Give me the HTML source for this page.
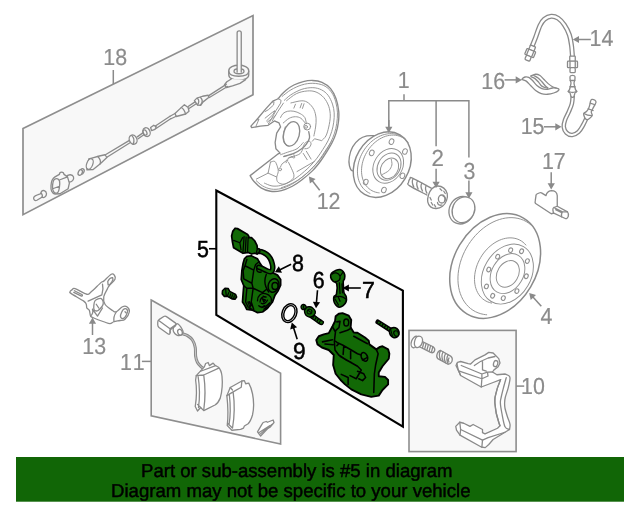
<!DOCTYPE html>
<html>
<head>
<meta charset="utf-8">
<title>Brake caliper parts diagram</title>
<style>
html,body{margin:0;padding:0;background:#fff;}
body{width:640px;height:512px;overflow:hidden;position:relative;font-family:"Liberation Sans",sans-serif;}
svg{position:absolute;left:0;top:0;display:block;will-change:transform;}
.g{fill:none;stroke:#8a8a8a;stroke-width:1.3;stroke-linecap:round;stroke-linejoin:round;}
.gf{fill:#fff;stroke:#8a8a8a;stroke-width:1.3;stroke-linecap:round;stroke-linejoin:round;}
.gb{fill:#f8f8f8;stroke:#8a8a8a;stroke-width:1.3;stroke-linecap:round;stroke-linejoin:round;}
.box{fill:#f8f8f8;stroke:#8e8e8e;stroke-width:1.9;stroke-linejoin:miter;}
.bbox{fill:#f8f8f8;stroke:#000;stroke-width:2.1;stroke-linejoin:miter;}
.ld{fill:none;stroke:#8a8a8a;stroke-width:1.5;}
.bld{fill:none;stroke:#000;stroke-width:1.6;}
.ah{fill:#8a8a8a;stroke:none;}
.bah{fill:#000;stroke:none;}
.lb{text-rendering:geometricPrecision;font-family:"Liberation Sans",sans-serif;font-size:22.75px;fill:#8c8c8c;stroke:#8c8c8c;stroke-width:0.2;}
.blb{text-rendering:geometricPrecision;font-family:"Liberation Sans",sans-serif;font-size:22.75px;fill:#000;stroke:#000;stroke-width:0.5;}
.gr{fill:#126906;stroke:#000;stroke-width:1.3;stroke-linejoin:round;stroke-linecap:round;}
.gl{fill:none;stroke:#000;stroke-width:1;stroke-linejoin:round;stroke-linecap:round;}
.bn{text-rendering:geometricPrecision;font-family:"Liberation Sans",sans-serif;font-size:18.6px;fill:#000;stroke:#000;stroke-width:0.45;}
</style>
</head>
<body>
<svg width="640" height="512" viewBox="0 0 640 512">
<rect x="0" y="0" width="640" height="512" fill="#fff"/>

<!-- ===== boxes ===== -->
<polygon class="box" style="stroke-width:1.7" points="23,128.6 253,15.6 253,94.8 23,214.7"/>
<polygon class="box" style="stroke-width:1.6" points="151.2,300 280.6,373.2 280.6,444 151.2,415.8"/>
<rect class="box" style="stroke-width:1.6" x="409" y="330.4" width="107.1" height="121.2"/>
<polygon class="bbox" points="216.3,190.5 402.9,290.6 402.9,426.6 216.3,315"/>





<!-- ===== parts (placeholders to refine) ===== -->
<g id="p18">
<!-- pin + grommet, origin (180,24) -->
<g transform="translate(180,24) scale(0.125)" class="g" style="stroke-width:10.5">
<path class="gb" style="stroke-width:10.5" d="M390 375C390 345 430 330 470 330C510 330 550 345 550 375L550 405C550 435 510 450 470 450C430 450 390 435 390 405Z"/>
<path d="M390 378C392 405 430 418 470 418C510 418 548 405 550 378"/>
<ellipse cx="472" cy="378" rx="40" ry="20"/>
<path class="gb" style="stroke-width:10.5" d="M457 385V70C457 50 490 50 490 70V385"/>
<path class="gb" style="stroke-width:10.5" d="M410 440L375 462L356 486L372 508L420 495L480 475L525 445"/>
</g>
<!-- cable upper, origin (160,60) -->
<g transform="translate(160,60) scale(0.125)" class="g" style="stroke-width:10.5">
<path d="M530 195L390 285M540 212L395 300"/>
<path class="gb" style="stroke-width:10.5" d="M275 325L295 305L340 290L385 282L392 298L345 335L325 362L300 360Z"/>
<path d="M325 300C340 315 340 340 325 360M300 308C315 320 312 345 300 358"/>
<path d="M280 335L225 372M290 350L232 388"/>
<path class="gb" style="stroke-width:10.5" d="M120 428L165 385L195 358L225 380L232 410L205 432L130 452Z"/>
<path d="M170 380C190 390 200 415 205 432"/>
<path d="M120 428L80 450M130 450L88 470"/>
</g>
<!-- cable lower, origin (90,110) -->
<g transform="translate(90,110) scale(0.125)" class="g" style="stroke-width:10.5">
<path d="M640 50L520 130M648 68L528 148"/>
<path class="gb" style="stroke-width:10.5" d="M485 140L510 122L530 135L520 155L492 165Z"/>
<ellipse class="gb" style="stroke-width:10.5" cx="452" cy="177" rx="28" ry="36" transform="rotate(-25 452 177)"/>
<ellipse cx="440" cy="180" rx="14" ry="22" transform="rotate(-25 440 180)"/>
<path d="M420 185L378 215M428 200L385 230"/>
<ellipse class="gb" style="stroke-width:10.5" cx="345" cy="237" rx="30" ry="38" transform="rotate(-25 345 237)"/>
<path d="M335 205C355 225 355 250 345 272"/>
<path d="M312 245L120 360M320 262L135 378"/>
<path class="gb" style="stroke-width:10.5" d="M120 358L75 368L15 385L-10 392L-25 478L25 476L80 432L135 380Z"/>
<ellipse class="gb" style="stroke-width:10.5" cx="-2" cy="432" rx="24" ry="44" transform="rotate(22 -2 432)"/>
<path d="M62 372C80 390 88 415 80 432"/>
</g>
<!-- sensor, ring, bolt, origin (25,150) -->
<g transform="translate(25,150) scale(0.125)" class="g" style="stroke-width:10.5">
<ellipse class="gb" style="stroke-width:10.5" cx="456" cy="172" rx="16" ry="23" transform="rotate(25 456 172)"/>
<ellipse class="gb" style="stroke-width:10.5" cx="442" cy="180" rx="16" ry="23" transform="rotate(25 442 180)"/>
<path class="gb" style="stroke-width:10.5" d="M330 215C340 195 380 190 388 215C395 240 375 255 350 258Z"/>
<path class="gb" style="stroke-width:10.5" d="M275 195C275 170 310 170 312 195L340 215L355 265L345 310L280 350L240 352C215 350 205 320 208 285C210 250 215 230 240 215Z"/>
<path d="M235 235C260 220 280 235 278 270C276 310 270 340 255 345C230 350 218 320 220 290C222 260 225 245 235 235ZM222 310L275 290M275 240L340 215"/>
<path class="gb" style="stroke-width:10.5" d="M70 380C75 365 95 360 125 350L130 335C140 315 170 325 172 350C172 375 150 385 135 378L95 402C80 410 65 398 70 380Z"/>
<path d="M128 345C140 355 142 370 135 378"/>
</g>
</g>
<g id="p12">
<g transform="translate(247,80) scale(0.15625)" class="g" style="stroke-width:8.6">
<path class="gf" style="stroke-width:8.6" d="M215.0 100.0C220.8 94.2 235.8 76.3 250.0 65.0C264.2 53.7 281.7 41.2 300.0 32.0C318.3 22.8 340.0 14.8 360.0 10.0C380.0 5.2 400.0 2.2 420.0 3.0C440.0 3.8 460.8 6.3 480.0 15.0C499.2 23.7 520.0 37.5 535.0 55.0C550.0 72.5 561.3 95.8 570.0 120.0C578.7 144.2 584.5 175.0 587.0 200.0C589.5 225.0 587.8 246.7 585.0 270.0C582.2 293.3 576.7 318.3 570.0 340.0C563.3 361.7 555.0 380.0 545.0 400.0C535.0 420.0 522.5 440.0 510.0 460.0C497.5 480.0 485.0 500.0 470.0 520.0C455.0 540.0 440.0 560.0 420.0 580.0C400.0 600.0 371.7 623.3 350.0 640.0C328.3 656.7 311.7 668.7 290.0 680.0C268.3 691.3 243.3 702.7 220.0 708.0C196.7 713.3 171.7 715.0 150.0 712.0C128.3 709.0 107.5 700.3 90.0 690.0C72.5 679.7 56.7 663.0 45.0 650.0C33.3 637.0 24.2 618.3 20.0 612.0L20.0 612.0L200.0 472.0L212.0 468.0L185.0 440.0L180.0 400.0L190.0 340.0L215.0 300.0L205.0 275.0L175.0 262.0L135.0 290.0L85.0 295.0L30.0 305.0L25.0 295.0L70.0 245.0L120.0 185.0L165.0 135.0L200.0 120.0L215.0 100.0 Z"/>
<g style="stroke-width:6.1;stroke:#939393">
<path d="M225.0 105.0C234.3 98.0 260.0 75.2 281.0 63.0C302.0 50.8 327.7 38.5 351.0 31.5C374.3 24.5 397.7 20.4 421.0 21.0C444.3 21.6 471.2 25.7 491.0 35.0C510.8 44.3 527.2 59.5 540.0 77.0C552.8 94.5 561.5 117.8 568.0 140.0C574.5 162.2 578.0 186.7 579.0 210.0C580.0 233.3 577.2 258.3 574.0 280.0C570.8 301.7 566.5 320.0 560.0 340.0C553.5 360.0 545.0 380.8 535.0 400.0C525.0 419.2 512.2 436.3 500.0 455.0C487.8 473.7 476.7 492.8 462.0 512.0C447.3 531.2 431.5 550.7 412.0 570.0C392.5 589.3 366.2 611.7 345.0 628.0C323.8 644.3 306.2 656.8 285.0 668.0C263.8 679.2 239.7 690.0 218.0 695.0C196.3 700.0 174.7 700.8 155.0 698.0C135.3 695.2 115.8 686.8 100.0 678.0C84.2 669.2 66.7 650.5 60.0 645.0"/>
<path d="M239.0 130.0C246.0 124.1 262.3 106.2 281.0 94.5C299.7 82.8 327.7 67.1 351.0 59.5C374.3 51.9 400.0 48.4 421.0 49.0C442.0 49.6 460.7 54.8 477.0 63.0C493.3 71.2 507.3 82.8 519.0 98.0C530.7 113.2 540.5 135.3 547.0 154.0C553.5 172.7 556.7 190.7 558.0 210.0C559.3 229.3 557.7 250.0 555.0 270.0C552.3 290.0 548.2 310.0 542.0 330.0C535.8 350.0 527.5 370.8 518.0 390.0C508.5 409.2 496.7 426.7 485.0 445.0C473.3 463.3 462.2 481.7 448.0 500.0C433.8 518.3 418.8 536.3 400.0 555.0C381.2 573.7 355.3 596.2 335.0 612.0C314.7 627.8 298.0 639.5 278.0 650.0C258.0 660.5 234.7 670.3 215.0 675.0C195.3 679.7 177.2 680.5 160.0 678.0C142.8 675.5 120.0 663.0 112.0 660.0"/>
<path d="M539.0 395.0C534.8 402.5 524.8 422.5 514.0 440.0C503.2 457.5 489.0 480.5 474.0 500.0C459.0 519.5 443.2 537.5 424.0 557.0C404.8 576.5 380.7 600.0 359.0 617.0C337.3 634.0 317.3 646.8 294.0 659.0C270.7 671.2 231.5 684.8 219.0 690.0"/>
<path d="M253.0 133.0C263.5 125.4 293.8 98.0 316.0 87.5C338.2 77.0 365.0 71.8 386.0 70.0C407.0 68.2 424.5 70.0 442.0 77.0C459.5 84.0 477.5 96.8 491.0 112.0C504.5 127.2 516.0 148.2 523.0 168.0C530.0 187.8 533.0 208.8 533.0 231.0C533.0 253.2 527.7 279.8 523.0 301.0C518.3 322.2 512.5 343.5 505.0 358.0C497.5 372.5 482.5 383.0 478.0 388.0 L432 376L418 392"/>
<path d="M281.0 147.0C292.7 144.7 332.3 133.0 351.0 133.0C369.7 133.0 380.2 137.7 393.0 147.0C405.8 156.3 419.8 172.7 428.0 189.0C436.2 205.3 440.2 226.3 442.0 245.0C443.8 263.7 441.3 282.2 439.0 301.0C436.7 319.8 429.8 348.5 428.0 358.0"/>
<path d="M245.0 300.0C242.8 308.3 233.7 334.2 232.0 350.0C230.3 365.8 231.2 383.3 235.0 395.0C238.8 406.7 251.7 415.8 255.0 420.0"/>
<path d="M215.0 240.0C217.5 235.8 222.5 221.7 230.0 215.0C237.5 208.3 248.3 202.5 260.0 200.0C271.7 197.5 286.7 197.5 300.0 200.0C313.3 202.5 328.3 208.3 340.0 215.0C351.7 221.7 363.3 229.2 370.0 240.0C376.7 250.8 378.3 273.3 380.0 280.0"/>
<path d="M232.0 275.0C238.3 270.0 257.0 251.7 270.0 245.0C283.0 238.3 297.5 235.0 310.0 235.0C322.5 235.0 334.7 238.3 345.0 245.0C355.3 251.7 367.5 270.0 372.0 275.0"/>
<path d="M215.0 478.0C222.5 475.3 242.5 468.3 260.0 462.0C277.5 455.7 303.3 450.3 320.0 440.0C336.7 429.7 353.3 406.7 360.0 400.0"/>
<circle cx="378" cy="300" r="9"/>
<path d="M360.0 425.0C362.5 420.8 368.3 405.5 375.0 400.0C381.7 394.5 394.2 390.3 400.0 392.0C405.8 393.7 410.8 402.8 410.0 410.0C409.2 417.2 401.7 430.0 395.0 435.0C388.3 440.0 374.2 439.2 370.0 440.0"/>
<path d="M197 118L218 130L215 148L185 196L149 262L137 280M233 148L197 202L161 262M161 142L173 139L170 160L137 190L116 202M116 244L161 208L179 196L167 220L125 262M65 256L77 250L59 292M310 155L300 180M350 150L340 178M365 152L355 182M130 270L185 225"/>
<path d="M150.0 526.0C154.7 525.2 170.5 516.0 178.0 521.0C185.5 526.0 191.3 545.2 195.0 556.0C198.7 566.8 200.8 574.3 200.0 586.0C199.2 597.7 190.0 614.3 190.0 626.0C190.0 637.7 191.7 649.3 200.0 656.0C208.3 662.7 225.0 669.3 240.0 666.0C255.0 662.7 280.0 646.0 290.0 636.0C300.0 626.0 301.7 619.3 300.0 606.0C298.3 592.7 285.8 569.3 280.0 556.0C274.2 542.7 267.5 531.0 265.0 526.0"/>
<path d="M150.0 526.0L135.0 596.0L60.0 634.0"/>
<path d="M135.0 596.0L190.0 621.0"/>
<path d="M320 586L430 522M380 456L410 506M360 470L385 510M265 500L290 492M262 512L250 530M285 490L300 500M300 478L305 496"/>
<circle cx="212" cy="572" r="9"/>
<path d="M215.0 556.0C216.7 552.7 219.2 542.3 225.0 536.0C230.8 529.7 242.5 524.7 250.0 518.0C257.5 511.3 261.7 501.0 270.0 496.0C278.3 491.0 288.3 492.2 300.0 488.0C311.7 483.8 330.0 479.7 340.0 471.0C350.0 462.3 356.7 441.8 360.0 436.0"/>
</g>
<ellipse cx="285" cy="345" rx="50" ry="80" transform="rotate(15 285 345)"/>
<path d="M235.0 490.0C245.8 486.7 280.8 478.3 300.0 470.0C319.2 461.7 336.7 450.0 350.0 440.0C363.3 430.0 371.7 421.7 380.0 410.0C388.3 398.3 397.5 383.3 400.0 370.0C402.5 356.7 395.8 336.7 395.0 330.0"/>
<circle cx="385" cy="298" r="22" style="stroke-width:6.1"/>
</g>
</g>
<g id="p1">
<g transform="translate(340,125) scale(0.125)" class="g" style="stroke-width:10.4">
<path class="gf" style="stroke-width:10.4" d="M275.0 85.0C265.0 85.3 235.2 82.2 215.0 87.0C194.8 91.8 173.0 99.3 154.0 114.0C135.0 128.7 114.2 151.7 101.0 175.0C87.8 198.3 79.3 229.2 75.0 254.0C70.7 278.8 69.8 305.2 75.0 324.0C80.2 342.8 85.2 371.0 106.0 367.0C126.8 363.0 184.3 311.2 200.0 300.0"/>
<ellipse class="gf" style="stroke-width:11.4" cx="338" cy="317" rx="277" ry="214" transform="rotate(-59.3 338 317)"/>
<g style="stroke-width:7.6;stroke:#909090">
<path d="M313.5 542.8C310.9 542.4 303.3 541.6 298.3 540.6C293.3 539.7 288.4 538.5 283.6 537.1C278.8 535.7 274.1 534.0 269.5 532.1C264.9 530.2 260.4 528.1 256.1 525.7C251.7 523.4 247.5 520.8 243.4 518.0C239.3 515.3 235.3 512.2 231.5 509.0C227.7 505.8 224.1 502.4 220.6 498.8C217.1 495.2 213.8 491.4 210.6 487.4C207.5 483.4 204.5 479.2 201.7 474.9C198.9 470.5 196.3 466.0 193.9 461.4C191.4 456.7 189.2 451.8 187.2 446.9C185.1 441.9 183.3 436.8 181.7 431.6C180.0 426.3 178.6 421.0 177.4 415.5C176.2 410.0 175.1 404.4 174.3 398.8C173.5 393.1 172.9 387.3 172.6 381.5C172.2 375.7 172.0 369.8 172.1 363.8C172.1 357.9 172.4 351.8 172.9 345.8C173.3 339.8 174.0 333.7 174.9 327.6C175.8 321.5 176.9 315.3 178.3 309.2C179.6 303.1 181.1 297.0 182.8 290.9C184.6 284.8 186.5 278.7 188.6 272.7C190.7 266.7 193.1 260.7 195.6 254.8C198.1 248.9 200.8 243.0 203.7 237.2C206.5 231.4 209.6 225.7 212.8 220.1C216.1 214.5 219.5 209.0 223.0 203.6C226.6 198.2 230.3 192.9 234.2 187.7C238.1 182.6 242.1 177.5 246.2 172.6C250.4 167.8 254.7 163.0 259.1 158.4C263.5 153.9 268.1 149.4 272.7 145.2C277.3 141.0 282.1 136.9 287.0 133.0C291.8 129.2 296.7 125.5 301.8 122.0C306.8 118.5 311.9 115.2 317.0 112.1C322.2 109.0 327.4 106.1 332.7 103.5C337.9 100.8 343.3 98.4 348.6 96.2C353.9 94.0 359.3 92.0 364.7 90.2C370.1 88.5 375.5 87.0 380.8 85.7C386.2 84.4 391.6 83.4 397.0 82.6C402.3 81.8 407.7 81.2 413.0 80.9C418.3 80.5 423.5 80.5 428.7 80.6C433.9 80.8 439.1 81.2 444.2 81.8C449.2 82.5 454.3 83.4 459.2 84.5C464.1 85.6 468.9 87.0 473.6 88.6C478.4 90.2 483.0 92.0 487.5 94.1C492.0 96.1 496.4 98.4 500.7 100.9C504.9 103.4 509.1 106.2 513.1 109.1C517.1 112.1 520.9 115.2 524.6 118.6C528.3 121.9 531.8 125.5 535.2 129.2C538.6 133.0 543.2 139.1 544.8 141.1"/>
<path d="M239.6 546.9C237.6 545.9 231.4 543.1 227.5 540.9C223.6 538.7 219.8 536.3 216.1 533.8C212.4 531.3 208.8 528.6 205.3 525.7C201.8 522.9 198.4 519.9 195.1 516.7C191.9 513.6 188.8 510.3 185.8 506.8C182.8 503.3 179.9 499.7 177.1 496.0C174.4 492.3 171.8 488.4 169.3 484.4C166.9 480.4 164.6 476.2 162.4 472.0C160.2 467.8 158.2 463.4 156.3 458.9C154.4 454.4 152.7 449.8 151.1 445.2C149.6 440.5 148.2 435.7 146.9 430.8C145.6 426.0 144.5 421.0 143.6 416.0C142.7 410.9 141.9 405.8 141.3 400.7C140.7 395.5 140.2 390.2 139.9 385.0C139.7 379.7 139.5 374.3 139.6 368.9C139.6 363.6 139.8 358.1 140.2 352.7C140.6 347.2 141.1 341.7 141.8 336.2C142.5 330.8 143.4 325.2 144.4 319.7C145.4 314.2 146.6 308.7 147.9 303.2C149.3 297.7 150.8 292.2 152.4 286.7C154.0 281.2 155.9 275.7 157.8 270.3C159.8 264.9 161.9 259.5 164.1 254.1C166.4 248.8 168.8 243.5 171.3 238.3C173.8 233.0 176.5 227.8 179.3 222.7C182.1 217.6 185.1 212.5 188.1 207.6C191.2 202.6 194.4 197.7 197.7 192.9C201.0 188.2 204.5 183.4 208.0 178.9C211.6 174.3 215.3 169.8 219.0 165.4C222.8 161.0 226.7 156.7 230.6 152.6C234.6 148.4 238.7 144.4 242.8 140.5C247.0 136.6 251.2 132.9 255.5 129.3C259.8 125.6 264.2 122.2 268.7 118.8C273.1 115.5 277.6 112.3 282.2 109.3C286.8 106.3 291.4 103.4 296.1 100.7C300.8 98.0 305.5 95.4 310.3 93.0C315.0 90.6 319.8 88.4 324.6 86.4C329.5 84.3 334.3 82.5 339.2 80.8C344.0 79.1 348.9 77.6 353.8 76.2C358.6 74.9 363.5 73.7 368.4 72.8C373.3 71.8 378.1 71.0 383.0 70.4C387.8 69.8 392.6 69.4 397.4 69.1C402.2 68.9 407.0 68.8 411.7 69.0C416.4 69.1 421.1 69.4 425.7 69.9C430.3 70.4 434.9 71.1 439.4 72.0C443.9 72.9 448.4 73.9 452.8 75.2C457.1 76.4 461.4 77.8 465.7 79.4C469.9 81.0 474.0 82.8 478.1 84.8C482.1 86.7 488.0 90.1 489.9 91.1"/>
<ellipse cx="385.6" cy="327.0" rx="147.0" ry="113.6" transform="rotate(-59.3 385.6 327.0)"/>
<ellipse cx="392.0" cy="333.0" rx="115.1" ry="89.0" transform="rotate(-59.3 392.0 333.0)"/>
<ellipse cx="396.0" cy="347.0" rx="87.4" ry="67.5" transform="rotate(-59.3 396.0 347.0)"/>
<path d="M410.0 275.0C410.8 282.5 418.3 305.0 415.0 320.0C411.7 335.0 402.5 352.5 390.0 365.0C377.5 377.5 348.3 390.0 340.0 395.0"/>
<ellipse cx="412.0" cy="133.0" rx="18" ry="23" transform="rotate(25 412.0 133.0)"/>
<ellipse cx="519.5" cy="212.0" rx="18" ry="23" transform="rotate(25 519.5 212.0)"/>
<ellipse cx="254.0" cy="223.0" rx="18" ry="23" transform="rotate(25 254.0 223.0)"/>
<ellipse cx="206.0" cy="456.0" rx="18" ry="23" transform="rotate(25 206.0 456.0)"/>
<ellipse cx="499.0" cy="406.0" rx="18" ry="23" transform="rotate(25 499.0 406.0)"/>
<ellipse cx="351.0" cy="520.0" rx="18" ry="23" transform="rotate(25 351.0 520.0)"/>
</g>
</g>
</g>
<g id="p2">
<g transform="translate(400,165) scale(0.125)" class="g" style="stroke-width:10.4">
<path class="gf" style="stroke-width:10.4" d="M250.0 185.0C225.0 171.7 128.3 117.5 100.0 105.0C71.7 92.5 85.3 104.2 80.0 110.0C74.7 115.8 68.8 130.8 68.0 140.0C67.2 149.2 50.5 148.3 75.0 165.0C99.5 181.7 191.7 227.5 215.0 240.0"/>
<path d="M105 110C95 125 100 155 110 175M140 128C130 143 135 170 145 192M175 146C165 161 170 190 180 208M210 164C200 180 205 205 215 225"/>
<path class="gf" style="stroke-width:10.4" d="M300.0 168.0C315.8 167.2 337.0 174.7 350.0 185.0C363.0 195.3 374.3 213.3 378.0 230.0C381.7 246.7 378.3 268.3 372.0 285.0C365.7 301.7 353.7 319.5 340.0 330.0C326.3 340.5 305.8 347.2 290.0 348.0C274.2 348.8 256.3 343.8 245.0 335.0C233.7 326.2 224.8 310.8 222.0 295.0C219.2 279.2 222.5 257.5 228.0 240.0C233.5 222.5 243.0 202.0 255.0 190.0C267.0 178.0 284.2 168.8 300.0 168.0Z"/>
<ellipse cx="335" cy="272" rx="28" ry="32"/>
<path d="M345 250C360 255 365 275 355 290M250 300L262 320M275 318L285 335M240 260L250 280M320 190L335 205M350 210L362 228M300 300C300 320 320 325 335 320"/>
<ellipse class="gf" style="stroke-width:10.4" cx="492" cy="362" rx="98" ry="112" transform="rotate(25 492 362)"/>
<ellipse class="gf" style="stroke-width:10.4" cx="508" cy="358" rx="88" ry="106" transform="rotate(25 508 358)"/>
</g>
</g>
<g id="p3"></g>
<g id="p4">
<g transform="translate(445,205) scale(0.15625)" class="g" style="stroke-width:8.3">
<ellipse class="gf" cx="321.0" cy="390.0" rx="356.0" ry="264.0" transform="rotate(-59.4 321.0 390.0)" style="stroke-width:9.6"/>
<g style="stroke-width:6.1;stroke:#909090">
<path d="M266.9 702.5C263.7 702.1 254.1 701.2 247.8 700.1C241.5 699.0 235.3 697.7 229.3 696.0C223.2 694.3 217.3 692.3 211.5 690.1C205.7 687.8 200.0 685.3 194.5 682.5C189.0 679.7 183.6 676.6 178.4 673.2C173.2 669.9 168.1 666.2 163.3 662.3C158.5 658.5 153.8 654.3 149.3 649.9C144.8 645.6 140.5 640.9 136.5 636.0C132.4 631.2 128.5 626.1 124.8 620.8C121.2 615.4 117.8 609.9 114.5 604.2C111.3 598.4 108.4 592.5 105.6 586.4C102.9 580.2 100.4 573.9 98.1 567.4C95.8 561.0 93.8 554.3 92.0 547.5C90.3 540.7 88.7 533.8 87.5 526.7C86.2 519.6 85.2 512.4 84.4 505.1C83.6 497.8 83.1 490.4 82.9 482.9C82.6 475.4 82.6 467.8 82.9 460.2C83.2 452.5 83.7 444.8 84.5 437.0C85.3 429.3 86.3 421.4 87.6 413.6C88.9 405.8 90.4 398.0 92.2 390.1C94.0 382.3 96.0 374.4 98.3 366.6C100.6 358.8 103.1 351.0 105.9 343.2C108.6 335.5 111.6 327.8 114.9 320.2C118.1 312.5 121.5 305.0 125.2 297.5C128.9 290.0 132.8 282.6 136.9 275.4C140.9 268.1 145.3 260.9 149.7 253.9C154.2 246.9 158.9 240.0 163.8 233.2C168.6 226.5 173.7 219.9 178.9 213.5C184.1 207.0 189.5 200.8 195.0 194.7C200.6 188.6 206.2 182.8 212.1 177.1C217.9 171.4 223.8 165.9 229.9 160.7C235.9 155.5 242.1 150.4 248.4 145.6C254.7 140.8 261.1 136.3 267.6 132.0C274.0 127.7 280.6 123.6 287.2 119.8C293.8 116.0 300.5 112.5 307.2 109.2C313.9 105.9 320.7 102.9 327.4 100.2C334.2 97.5 341.0 95.0 347.8 92.9C354.6 90.7 361.5 88.8 368.3 87.2C375.1 85.7 381.9 84.4 388.6 83.4C395.4 82.4 402.1 81.7 408.8 81.2C415.4 80.8 422.1 80.7 428.6 80.9C435.1 81.1 441.6 81.6 448.0 82.4C454.4 83.1 460.7 84.2 466.8 85.6C473.0 86.9 479.1 88.6 485.0 90.5C491.0 92.5 496.8 94.7 502.5 97.2C508.1 99.7 513.7 102.5 519.1 105.6C524.4 108.7 529.7 112.0 534.7 115.6C539.7 119.2 546.9 125.3 549.3 127.2"/>
<path d="M298.1 627.4C296.0 626.9 289.7 625.6 285.6 624.4C281.5 623.2 277.5 621.8 273.6 620.2C269.6 618.6 265.8 616.8 262.1 614.8C258.4 612.8 254.8 610.6 251.3 608.3C247.8 605.9 244.4 603.4 241.1 600.7C237.9 597.9 234.8 595.1 231.8 592.0C228.8 588.9 225.9 585.7 223.2 582.3C220.5 579.0 217.9 575.4 215.5 571.7C213.1 568.0 210.8 564.2 208.7 560.2C206.6 556.3 204.6 552.1 202.9 547.9C201.1 543.7 199.4 539.3 198.0 534.9C196.5 530.4 195.2 525.8 194.1 521.1C193.0 516.5 192.1 511.7 191.3 506.8C190.5 502.0 189.9 497.0 189.5 492.0C189.1 487.0 188.8 481.9 188.8 476.8C188.7 471.6 188.8 466.4 189.1 461.2C189.4 455.9 189.9 450.7 190.5 445.4C191.2 440.1 192.0 434.7 193.0 429.4C194.0 424.1 195.1 418.7 196.4 413.4C197.8 408.1 199.3 402.7 200.9 397.4C202.6 392.1 204.5 386.8 206.4 381.6C208.4 376.3 210.6 371.1 212.9 365.9C215.2 360.8 217.7 355.7 220.3 350.6C222.9 345.6 225.6 340.6 228.5 335.7C231.4 330.9 234.4 326.0 237.6 321.3C240.8 316.6 244.1 312.0 247.5 307.5C250.9 303.0 254.4 298.6 258.0 294.3C261.7 290.0 265.4 285.9 269.3 281.9C273.1 277.9 277.1 274.0 281.1 270.2C285.1 266.5 289.3 262.9 293.5 259.5C297.7 256.0 301.9 252.7 306.3 249.6C310.6 246.5 315.0 243.6 319.5 240.8C323.9 238.0 328.4 235.4 332.9 233.0C337.5 230.6 342.1 228.3 346.7 226.3C351.2 224.2 355.9 222.4 360.5 220.7C365.1 219.0 369.8 217.6 374.4 216.3C379.0 215.0 383.7 213.9 388.3 213.1C392.9 212.2 397.5 211.5 402.1 211.0C406.7 210.6 411.2 210.3 415.7 210.2C420.2 210.2 424.6 210.3 429.0 210.6C433.4 211.0 437.8 211.5 442.1 212.3C446.3 213.0 450.5 214.0 454.6 215.1C458.8 216.3 462.8 217.6 466.8 219.2C470.7 220.7 474.6 222.5 478.3 224.4C482.0 226.3 485.7 228.4 489.2 230.7C492.8 233.0 496.2 235.5 499.5 238.2C502.7 240.8 505.9 243.7 508.9 246.7C512.0 249.7 516.2 254.6 517.6 256.2"/>
<ellipse  cx="399.0" cy="442.0" rx="204.0" ry="151.3" transform="rotate(-59.4 399.0 442.0)" />
<ellipse  cx="400.0" cy="439.0" rx="136.0" ry="100.8" transform="rotate(-59.4 400.0 439.0)" />
<ellipse  cx="402.0" cy="441.0" rx="90.4" ry="67.1" transform="rotate(-59.4 402.0 441.0)" />
<ellipse cx="420" cy="289" rx="12" ry="15" transform="rotate(25 420 289)" style="stroke-width:7.1"/>
<ellipse cx="490" cy="296" rx="12" ry="15" transform="rotate(25 490 296)" style="stroke-width:7.1"/>
<ellipse cx="527" cy="359" rx="12" ry="15" transform="rotate(25 527 359)" style="stroke-width:7.1"/>
<ellipse cx="520" cy="456" rx="12" ry="15" transform="rotate(25 520 456)" style="stroke-width:7.1"/>
<ellipse cx="460" cy="551" rx="12" ry="15" transform="rotate(25 460 551)" style="stroke-width:7.1"/>
<ellipse cx="373" cy="596" rx="12" ry="15" transform="rotate(25 373 596)" style="stroke-width:7.1"/>
<ellipse cx="305" cy="581" rx="12" ry="15" transform="rotate(25 305 581)" style="stroke-width:7.1"/>
<ellipse cx="265" cy="521" rx="12" ry="15" transform="rotate(25 265 521)" style="stroke-width:7.1"/>
<ellipse cx="280" cy="413" rx="12" ry="15" transform="rotate(25 280 413)" style="stroke-width:7.1"/>
<ellipse cx="337" cy="331" rx="12" ry="15" transform="rotate(25 337 331)" style="stroke-width:7.1"/>
</g>
</g>
</g>
<g id="p14">
<g transform="translate(515,8) scale(0.125)" class="g" style="stroke-width:10.4">
<path d="M135.0 310.0C140.0 297.5 154.2 263.3 165.0 235.0C175.8 206.7 188.3 164.2 200.0 140.0C211.7 115.8 220.0 102.3 235.0 90.0C250.0 77.7 271.7 67.3 290.0 66.0C308.3 64.7 327.5 70.5 345.0 82.0C362.5 93.5 380.0 112.8 395.0 135.0C410.0 157.2 425.5 187.5 435.0 215.0C444.5 242.5 447.8 270.8 452.0 300.0C456.2 329.2 458.7 375.0 460.0 390.0" fill="none" stroke="#8a8a8a" stroke-width="40.4" stroke-linecap="butt" stroke-linejoin="round"/><path d="M135.0 310.0C140.0 297.5 154.2 263.3 165.0 235.0C175.8 206.7 188.3 164.2 200.0 140.0C211.7 115.8 220.0 102.3 235.0 90.0C250.0 77.7 271.7 67.3 290.0 66.0C308.3 64.7 327.5 70.5 345.0 82.0C362.5 93.5 380.0 112.8 395.0 135.0C410.0 157.2 425.5 187.5 435.0 215.0C444.5 242.5 447.8 270.8 452.0 300.0C456.2 329.2 458.7 375.0 460.0 390.0" fill="none" stroke="#fff" stroke-width="19.6" stroke-linecap="butt" stroke-linejoin="round"/>
<g transform="rotate(22 122 360)">
<rect class="gf" style="stroke-width:10.4" x="100" y="300" width="44" height="38" rx="4"/>
<rect class="gf" style="stroke-width:10.4" x="84" y="336" width="76" height="50" rx="6"/>
<path d="M100 338V384M144 338V384"/>
<rect class="gf" style="stroke-width:10.4" x="100" y="386" width="42" height="38" rx="10"/>
</g>
<rect class="gf" style="stroke-width:10.4" x="438" y="385" width="44" height="42" rx="4"/>
<rect class="gf" style="stroke-width:10.4" x="420" y="425" width="80" height="52" rx="6"/>
<path d="M440 427V475M482 427V475"/>
<rect class="gf" style="stroke-width:10.4" x="440" y="477" width="42" height="40" rx="10"/>
</g>
</g>
<g id="p16">
<g transform="translate(515,68) scale(0.125)" class="g" style="stroke-width:10.4">
<path class="gf" style="stroke-width:10.4" d="M55.0 90.0C57.5 86.2 70.8 74.5 80.0 72.0C89.2 69.5 100.0 70.3 110.0 75.0C120.0 79.7 129.2 89.2 140.0 100.0C150.8 110.8 162.5 129.2 175.0 140.0C187.5 150.8 200.8 160.0 215.0 165.0C229.2 170.0 245.8 170.8 260.0 170.0C274.2 169.2 285.8 160.8 300.0 160.0C314.2 159.2 337.0 161.7 345.0 165.0C353.0 168.3 353.8 174.2 348.0 180.0C342.2 185.8 324.7 195.0 310.0 200.0C295.3 205.0 276.7 209.2 260.0 210.0C243.3 210.8 225.8 210.0 210.0 205.0C194.2 200.0 179.2 190.8 165.0 180.0C150.8 169.2 137.5 152.5 125.0 140.0C112.5 127.5 100.0 112.5 90.0 105.0C80.0 97.5 70.8 97.5 65.0 95.0C59.2 92.5 52.5 93.8 55.0 90.0Z"/>
<path d="M125.0 65.0C131.7 62.5 152.5 50.8 165.0 50.0C177.5 49.2 189.2 53.3 200.0 60.0C210.8 66.7 219.2 79.2 230.0 90.0C240.8 100.8 253.3 115.0 265.0 125.0C276.7 135.0 289.2 144.2 300.0 150.0C310.8 155.8 325.0 158.3 330.0 160.0"/>
<path d="M130.0 70.0C135.0 72.5 150.0 77.5 160.0 85.0C170.0 92.5 180.8 105.0 190.0 115.0C199.2 125.0 205.8 137.8 215.0 145.0C224.2 152.2 237.2 155.5 245.0 158.0C252.8 160.5 259.2 159.7 262.0 160.0"/>
<path d="M150.0 60.0C155.8 63.3 174.2 71.7 185.0 80.0C195.8 88.3 205.8 100.0 215.0 110.0C224.2 120.0 232.2 131.7 240.0 140.0C247.8 148.3 258.3 156.7 262.0 160.0"/>
</g>
</g>
<g id="p15">
<g transform="translate(540,90) scale(0.125)" class="g" style="stroke-width:10.4">
<path d="M262.0 45.0C260.8 55.8 260.3 88.3 255.0 110.0C249.7 131.7 239.2 153.3 230.0 175.0C220.8 196.7 206.7 220.0 200.0 240.0C193.3 260.0 188.0 278.0 190.0 295.0C192.0 312.0 200.7 331.2 212.0 342.0C223.3 352.8 242.0 361.2 258.0 360.0C274.0 358.8 293.5 348.3 308.0 335.0C322.5 321.7 334.3 298.3 345.0 280.0C355.7 261.7 367.5 234.2 372.0 225.0" fill="none" stroke="#8a8a8a" stroke-width="36.4" stroke-linecap="butt" stroke-linejoin="round"/><path d="M262.0 45.0C260.8 55.8 260.3 88.3 255.0 110.0C249.7 131.7 239.2 153.3 230.0 175.0C220.8 196.7 206.7 220.0 200.0 240.0C193.3 260.0 188.0 278.0 190.0 295.0C192.0 312.0 200.7 331.2 212.0 342.0C223.3 352.8 242.0 361.2 258.0 360.0C274.0 358.8 293.5 348.3 308.0 335.0C322.5 321.7 334.3 298.3 345.0 280.0C355.7 261.7 367.5 234.2 372.0 225.0" fill="none" stroke="#fff" stroke-width="15.6" stroke-linecap="butt" stroke-linejoin="round"/>
<path class="gf" style="stroke-width:10.4" d="M240.0 -101.0C240.5 -107.3 239.2 -111.8 245.0 -114.0C250.8 -116.2 269.2 -116.2 275.0 -114.0C280.8 -111.8 279.5 -107.3 280.0 -101.0C280.5 -94.7 279.3 -83.5 278.0 -76.0C276.7 -68.5 272.0 -64.3 272.0 -56.0C272.0 -47.7 275.8 -35.2 278.0 -26.0C280.2 -16.8 282.2 -7.3 285.0 -1.0C287.8 5.3 295.8 7.8 295.0 12.0C294.2 16.2 284.2 17.0 280.0 24.0C275.8 31.0 275.0 49.0 270.0 54.0C265.0 59.0 255.0 59.0 250.0 54.0C245.0 49.0 244.2 31.0 240.0 24.0C235.8 17.0 225.8 16.2 225.0 12.0C224.2 7.8 232.2 5.3 235.0 -1.0C237.8 -7.3 239.8 -16.8 242.0 -26.0C244.2 -35.2 248.0 -47.7 248.0 -56.0C248.0 -64.3 243.3 -68.5 242.0 -76.0C240.7 -83.5 239.5 -94.7 240.0 -101.0Z"/>
<path d="M242.0 -76.0L278.0 -76.0"/>
<path d="M240.0 -26.0L280.0 -26.0"/>
<path d="M227.0 12.0C232.5 13.3 249.0 20.0 260.0 20.0C271.0 20.0 287.5 13.3 293.0 12.0"/>
<path class="gf" style="stroke-width:10.4" d="M405.0 88.0C407.8 80.5 409.2 76.0 415.0 75.0C420.8 74.0 434.5 78.2 440.0 82.0C445.5 85.8 448.8 90.8 448.0 98.0C447.2 105.2 439.3 116.3 435.0 125.0C430.7 133.7 426.2 141.7 422.0 150.0C417.8 158.3 410.7 166.7 410.0 175.0C409.3 183.3 418.0 193.3 418.0 200.0C418.0 206.7 415.5 209.2 410.0 215.0C404.5 220.8 392.5 232.2 385.0 235.0C377.5 237.8 370.8 237.8 365.0 232.0C359.2 226.2 352.2 207.8 350.0 200.0C347.8 192.2 348.3 189.7 352.0 185.0C355.7 180.3 366.0 177.8 372.0 172.0C378.0 166.2 383.7 158.7 388.0 150.0C392.3 141.3 395.2 130.3 398.0 120.0C400.8 109.7 402.2 95.5 405.0 88.0Z"/>
<path d="M402 105L440 118M385 150L425 165M352 188C370 200 395 205 415 205"/>
</g>
</g>
<g id="p17">
<g transform="translate(520,170) scale(0.125)" class="g" style="stroke-width:10.4">
<path class="gf" style="stroke-width:10.4" d="M135 192Q165 175 172 183L208 205Q215 170 250 165Q295 165 298 205L298 290L380 335Q390 345 386 372Q375 395 362 388L270 345L250 350L125 268Q118 262 122 245L128 205Q128 195 135 192Z"/>
<path d="M298 290L270 300Q262 305 263 320L268 345M270 300L340 335L380 335M340 335Q330 345 332 375M285 318L330 340"/>
</g>
</g>
<g id="p13">
<g transform="translate(60,268) scale(0.125)" class="g" style="stroke-width:10.4">
<path class="gf" style="stroke-width:10.4" d="M80.0 190.0C80.8 185.0 88.3 179.2 95.0 175.0C101.7 170.8 100.0 159.2 120.0 165.0C140.0 170.8 193.3 205.8 215.0 210.0C236.7 214.2 230.8 205.8 250.0 190.0C269.2 174.2 313.3 129.2 330.0 115.0C346.7 100.8 336.7 115.8 350.0 105.0C363.3 94.2 395.8 57.8 410.0 50.0C424.2 42.2 430.0 51.3 435.0 58.0C440.0 64.7 446.7 76.3 440.0 90.0C433.3 103.7 405.0 127.5 395.0 140.0C385.0 152.5 387.5 150.0 380.0 165.0C372.5 180.0 353.3 209.2 350.0 230.0C346.7 250.8 348.3 271.7 360.0 290.0C371.7 308.3 405.0 330.0 420.0 340.0C435.0 350.0 436.7 355.0 450.0 350.0C463.3 345.0 485.8 316.7 500.0 310.0C514.2 303.3 525.8 303.3 535.0 310.0C544.2 316.7 557.5 333.3 555.0 350.0C552.5 366.7 532.5 398.3 520.0 410.0C507.5 421.7 495.0 416.7 480.0 420.0C465.0 423.3 443.3 425.8 430.0 430.0C416.7 434.2 413.3 445.0 400.0 445.0C386.7 445.0 371.7 437.5 350.0 430.0C328.3 422.5 287.5 407.5 270.0 400.0C252.5 392.5 250.8 395.0 245.0 385.0C239.2 375.0 240.0 350.8 235.0 340.0C230.0 329.2 219.2 328.3 215.0 320.0C210.8 311.7 214.2 299.2 210.0 290.0C205.8 280.8 210.0 279.2 190.0 265.0C170.0 250.8 108.3 217.5 90.0 205.0C71.7 192.5 79.2 195.0 80.0 190.0Z"/>
<path d="M115 182L175 212Q185 222 172 225L110 195"/>
<path d="M382 108Q400 75 422 78Q428 90 415 110Q395 140 385 135Z"/>
<path d="M280.0 262.0C289.7 247.5 319.2 240.3 330.0 245.0C340.8 249.7 349.2 274.2 345.0 290.0C340.8 305.8 317.2 333.0 305.0 340.0C292.8 347.0 276.2 345.0 272.0 332.0C267.8 319.0 270.3 276.5 280.0 262.0Z"/>
<path d="M225 265L335 215Q350 170 340 130M260 330L300 385L340 320M245 385Q270 360 260 330M290 290L310 320"/>
<ellipse cx="512" cy="365" rx="22" ry="42" transform="rotate(25 512 365)"/>
<path d="M450 352Q425 390 432 428M520 350L530 360"/>
</g>
</g>
<g id="p11">
<g transform="translate(150,310) scale(0.125)" class="g" style="stroke-width:10.4">
<path d="M265.0 192.0C270.8 194.2 287.5 197.0 300.0 205.0C312.5 213.0 329.7 224.2 340.0 240.0C350.3 255.8 357.8 278.3 362.0 300.0C366.2 321.7 362.0 350.0 365.0 370.0C368.0 390.0 372.5 405.8 380.0 420.0C387.5 434.2 400.0 445.8 410.0 455.0C420.0 464.2 435.0 471.7 440.0 475.0" fill="none" stroke="#8a8a8a" stroke-width="24.4"/>
<path d="M265.0 192.0C270.8 194.2 287.5 197.0 300.0 205.0C312.5 213.0 329.7 224.2 340.0 240.0C350.3 255.8 357.8 278.3 362.0 300.0C366.2 321.7 362.0 350.0 365.0 370.0C368.0 390.0 372.5 405.8 380.0 420.0C387.5 434.2 400.0 445.8 410.0 455.0C420.0 464.2 435.0 471.7 440.0 475.0" fill="none" stroke="#f8f8f8" stroke-width="4.6"/>
<path class="gf" style="stroke-width:10.4" d="M200.0 120.0C206.7 112.0 215.8 107.0 225.0 112.0C234.2 117.0 248.3 138.7 255.0 150.0C261.7 161.3 265.8 171.7 265.0 180.0C264.2 188.3 256.7 195.8 250.0 200.0C243.3 204.2 233.3 206.7 225.0 205.0C216.7 203.3 206.7 197.5 200.0 190.0C193.3 182.5 185.0 171.7 185.0 160.0C185.0 148.3 193.3 128.0 200.0 120.0Z"/>
<ellipse cx="240" cy="178" rx="18" ry="24" transform="rotate(-20 240 178)"/>
<path class="gf" style="stroke-width:10.4" d="M62 100Q60 85 75 75L110 52Q122 45 135 55L205 105Q212 115 205 125L165 155Q160 160 160 170L160 185Q158 198 145 192L72 140Q62 130 62 118Z"/>
<path d="M75 88L160 150L162 180M160 150L205 118"/>
</g>
<g transform="translate(185,355) scale(0.125)" class="g" style="stroke-width:10.4">
<path class="gf" style="stroke-width:10.4" d="M90 165L155 95L165 68L185 60L195 85L225 65L240 82L268 98Q290 120 296 170Q305 260 282 345Q265 385 240 400L150 445L125 420L100 448L82 412Q100 300 85 200Z"/>
<path d="M150 160L270 105M150 160Q170 300 150 440M105 172Q125 300 108 420M90 165L150 160M125 130L245 85M100 395L125 420"/>
</g>
<g transform="translate(215,375) scale(0.125)" class="g" style="stroke-width:10.4">
<path class="gf" style="stroke-width:10.4" d="M95 165L122 100L215 48L235 45L245 70L270 65Q290 100 300 150Q318 240 300 320Q285 370 265 390L235 408L228 425L205 435L135 442L98 405Q110 300 95 165Z"/>
<path d="M145 135L210 98L215 48M145 135Q165 280 140 425M115 160Q130 290 112 400M95 165L145 135M122 100L140 120M100 385L135 420"/>
<path class="gf" style="stroke-width:10.4" d="M340 455L375 395L385 380L410 372L420 378L465 360L472 380L440 418L420 430L365 488Z"/>
<path d="M350 462L440 405M365 470L455 395"/>
</g>
</g>
<g id="p10">
<g transform="translate(405,328) scale(0.125)" class="g" style="stroke-width:10.4">
<path class="gf" style="stroke-width:10.4" d="M110 95L225 150Q245 165 235 185Q225 205 205 195L95 140Z"/>
<path d="M150 120L140 158M168 128L158 166M186 136L176 174M204 145L194 183M222 152L212 192"/>
<ellipse class="gf" style="stroke-width:10.4" cx="80" cy="112" rx="28" ry="48" transform="rotate(20 80 112)"/>
<path class="gf" style="stroke-width:10.4" d="M95.0 70.0C102.5 65.5 117.5 64.7 125.0 68.0C132.5 71.3 138.3 80.5 140.0 90.0C141.7 99.5 139.2 115.0 135.0 125.0C130.8 135.0 122.5 145.0 115.0 150.0C107.5 155.0 96.7 158.3 90.0 155.0C83.3 151.7 76.7 140.0 75.0 130.0C73.3 120.0 76.7 105.0 80.0 95.0C83.3 85.0 87.5 74.5 95.0 70.0Z"/>
<path class="gf" style="stroke-width:10.4" d="M285 180L365 225Q385 240 375 268Q362 295 340 288L262 245Q248 230 258 205Q268 180 285 180Z"/>
<path d="M285 180Q265 215 285 255M305 192Q285 225 305 265M325 204Q305 238 325 278M345 215Q325 248 345 288M352 240Q340 255 352 272"/>
</g>
<g transform="translate(445,328) scale(0.125)" class="g" style="stroke-width:10.4">
<path class="gf" style="stroke-width:10.4" d="M88.0 300.0L100.0 275.0L125.0 268.0L185.0 285.0L205.0 288.0L240.0 255.0L320.0 215.0L350.0 195.0L385.0 200.0L430.0 245.0L440.0 280.0L425.0 310.0L392.0 335.0L380.0 352.0L415.0 374.0L482.0 368.0C487.0 370.5 505.7 376.7 512.0 383.0C518.3 389.3 521.2 389.7 520.0 406.0C518.8 422.3 511.3 456.0 505.0 481.0C498.7 506.0 486.7 536.2 482.0 556.0C477.3 575.8 477.3 585.7 477.0 600.0C476.7 614.3 476.2 623.3 480.0 642.0C483.8 660.7 493.3 690.7 500.0 712.0C506.7 733.3 517.3 753.3 520.0 770.0C522.7 786.7 516.7 805.0 516.0 812.0L516.0 812.0L480.0 834.0L385.0 892.0L350.0 932.0L322.0 957.0L290.0 952.0L120.0 857.0L92.0 817.0L86.0 787.0L118.0 754.0L150.0 762.0L200.0 787.0L225.0 772.0L300.0 812.0L300.0 837.0L320.0 847.0L420.0 802.0L440.0 782.0L440.0 782.0L432.0 760.0L410.0 682.0L399.0 600.0L400.0 556.0L419.0 481.0L445.0 413.0L445.0 413.0L385.0 436.0L290.0 472.0L125.0 380.0L112.0 350.0Z"/>
<path d="M445.0 413.0C440.7 424.3 426.5 457.2 419.0 481.0C411.5 504.8 403.3 536.2 400.0 556.0C396.7 575.8 397.3 579.0 399.0 600.0C400.7 621.0 404.5 655.3 410.0 682.0C415.5 708.7 427.0 743.3 432.0 760.0C437.0 776.7 438.7 778.3 440.0 782.0"/>
<path d="M490.0 398.0C486.2 411.8 473.8 454.7 467.0 481.0C460.2 507.3 453.0 536.2 449.0 556.0C445.0 575.8 442.0 579.0 443.0 600.0C444.0 621.0 448.8 650.3 455.0 682.0C461.2 713.7 469.8 768.3 480.0 790.0C490.2 811.7 510.0 808.3 516.0 812.0"/>
<ellipse cx="405" cy="285" rx="17" ry="25" transform="rotate(15 405 285)"/>
<path d="M130 300L295 368L340 353L380 352M115 345L295 406L290 472M295 368L295 406L344 384L340 353M300 270L300 335L330 345M235 300Q290 260 345 240L400 228M95 285Q100 330 125 380"/>
<path d="M125.0 812.0L300.0 897.0L345.0 877.0L480.0 834.0"/>
<path d="M300.0 897.0L295.0 952.0"/>
<path d="M118.0 754.0L125.0 812.0L120.0 857.0"/>
</g>
</g>
<g id="p5">
<!-- motor body, 8x coords origin (220,252) -->
<g transform="translate(220,252) scale(0.125)">
<path class="gr" style="stroke-width:14" d="M215 35L250 30L300 55L320 90L340 120L380 150L430 170L460 185L485 220L485 265L465 310L440 345L420 400L380 450L340 480L300 485L260 465L215 460L200 430L180 400L185 330L190 270L170 220L175 150L185 90L195 55Z"/>
<path class="gl" style="stroke-width:11.5" d="M215 60L200 110L270 145L285 100L310 80M200 110L185 150L190 215L255 250L270 145M255 250L265 290L340 325L370 300M190 270L215 290L205 400L225 440M265 290L250 400L270 460M215 290L265 290M300 110C285 150 300 170 330 160M370 180C350 230 360 280 390 320M230 400L250 420L235 450"/>
<ellipse cx="428" cy="268" rx="42" ry="55" class="gl" style="stroke-width:11.5" transform="rotate(20 428 268)"/>
<ellipse cx="440" cy="272" rx="24" ry="28" class="gl" style="stroke-width:11.5"/>
<path class="gl" style="stroke-width:10.5" d="M300 390C300 350 330 320 370 335C400 345 420 370 410 400M310 430C330 450 370 440 395 410M320 400C320 370 345 350 370 360M330 410C345 420 370 410 380 385M340 375L365 385L350 400Z"/>
<path class="gl" style="stroke-width:9" d="M335 445L355 428M350 458L372 438M366 456L386 434M385 425L400 405M222 400L240 440M236 396L250 430M228 446L255 456M345 352L362 362"/>
<!-- bolt -->
<path class="gr" style="stroke-width:12.5" d="M20 310L40 290L65 292L78 315L125 340L133 360L120 378L95 375L60 355L35 355L18 335Z"/>
<path class="gl" style="stroke-width:9.5" d="M45 295L50 350M70 325L60 350M85 335L78 360M100 342L92 368M115 350L108 374"/>
</g>
<!-- actuator motor (8) : plug + cable, drawn in 8x coords origin (220,222) -->
<g transform="translate(220,222) scale(0.125)">
<path d="M296.0 236.0C301.7 236.2 317.3 233.3 330.0 237.0C342.7 240.7 360.0 248.8 372.0 258.0C384.0 267.2 394.3 279.2 402.0 292.0C409.7 304.8 414.7 322.0 418.0 335.0C421.3 348.0 423.0 359.8 422.0 370.0C421.0 380.2 418.2 392.0 412.0 396.0C405.8 400.0 397.0 397.8 385.0 394.0C373.0 390.2 352.5 378.3 340.0 373.0C327.5 367.7 315.0 363.8 310.0 362.0" fill="none" stroke="#000" stroke-width="44" stroke-linecap="round"/>
<path d="M296.0 236.0C301.7 236.2 317.3 233.3 330.0 237.0C342.7 240.7 360.0 248.8 372.0 258.0C384.0 267.2 394.3 279.2 402.0 292.0C409.7 304.8 414.7 322.0 418.0 335.0C421.3 348.0 423.0 359.8 422.0 370.0C421.0 380.2 418.2 392.0 412.0 396.0C405.8 400.0 397.0 397.8 385.0 394.0C373.0 390.2 352.5 378.3 340.0 373.0C327.5 367.7 315.0 363.8 310.0 362.0" fill="none" stroke="#126906" stroke-width="19" stroke-linecap="round"/>
<path class="gr" style="stroke-width:14" d="M121 50L140 53L221 100L231 116L228 125L252 125L277 150L296 187L299 212L315 216L318 237L296 256L277 250L252 256L227 244L202 247L184 250L109 206L99 156L93 112L102 75Z"/>
<path class="gl" style="stroke-width:10" d="M193 116L184 235M209 120L202 243M225 128L220 244M109 147L159 166L168 222M159 166L181 125M299 212L290 250"/>
</g>
<!-- caliper body, 8x coords origin (310,300) -->
<g transform="translate(310,300) scale(0.125)">
<path class="gr" style="stroke-width:15" d="M260 105L310 125L330 160L325 220L350 260L380 262L440 300L470 325L475 355L530 395L560 375L580 370L625 395L635 430L630 470L580 530L550 580L550 610L600 615L625 640L625 675L580 720L550 765L490 775L410 755L330 715L280 675L245 640L205 590L185 520L190 440L150 400L95 380L60 355L50 320L70 290L110 275L150 265L180 210L200 170L205 130L230 110Z"/>
<ellipse cx="290" cy="180" rx="20" ry="28" class="gl" style="stroke-width:11.5"/>
<path class="gl" style="stroke-width:12.5" d="M215 175L240 170L232 220L205 245L195 330L200 400L230 440L290 480L330 500M240 262L300 242L330 225M215 340L260 360L330 400L380 430L410 440M270 370L265 435M325 410L325 470M350 290L460 350M530 395L545 430L525 520L515 590L510 740M100 335L180 318M120 352L185 358M180 215L200 250M240 450L380 530L410 560L370 630L320 605M380 570L430 590L445 620L420 645L390 630M250 595L305 620L305 675M205 330L230 350L215 365"/>
<ellipse cx="435" cy="455" rx="24" ry="36" class="gl" style="stroke-width:12.5" transform="rotate(-25 435 455)"/>
<path class="gl" style="stroke-width:11.5" d="M420 480C435 470 450 470 460 455"/>
</g>
<!-- bleeder screw (6) + cap (7) + ring (9), 8x coords origin (270,260) -->
<g transform="translate(270,260) scale(0.125)">
<g transform="rotate(22 155 425)">
<ellipse cx="155" cy="425" rx="58" ry="78" fill="#f8f8f8" stroke="#000" stroke-width="12"/>
<ellipse cx="155" cy="425" rx="42" ry="62" fill="#fff" stroke="#000" stroke-width="11"/>
</g>
<g transform="translate(268 376) scale(0.86) translate(-275 -382)">
<path class="gr" style="stroke-width:13" d="M345.0 440.0C355.0 440.0 375.8 460.0 390.0 470.0C404.2 480.0 418.3 491.7 430.0 500.0C441.7 508.3 457.5 512.5 460.0 520.0C462.5 527.5 453.3 543.3 445.0 545.0C436.7 546.7 422.5 537.5 410.0 530.0C397.5 522.5 383.3 510.0 370.0 500.0C356.7 490.0 334.2 480.0 330.0 470.0C325.8 460.0 335.0 440.0 345.0 440.0Z"/>
<path class="gl" style="stroke-width:10" d="M375 462L358 490M395 476L378 504M415 490L398 518M435 504L420 530"/>
<path class="gr" style="stroke-width:13" d="M300.0 385.0C308.3 380.0 324.2 378.3 335.0 380.0C345.8 381.7 356.7 387.5 365.0 395.0C373.3 402.5 383.3 415.0 385.0 425.0C386.7 435.0 381.7 446.7 375.0 455.0C368.3 463.3 355.8 472.8 345.0 475.0C334.2 477.2 319.2 473.0 310.0 468.0C300.8 463.0 294.2 454.7 290.0 445.0C285.8 435.3 283.3 420.0 285.0 410.0C286.7 400.0 291.7 390.0 300.0 385.0Z"/>
<path class="gl" style="stroke-width:10" d="M330 400C350 400 358 420 350 438C340 452 318 450 310 435C305 418 315 402 330 400M322 415L340 430"/>
<path class="gr" style="stroke-width:13" d="M255.0 372.0C258.0 366.3 265.8 359.0 272.0 358.0C278.2 357.0 287.3 361.5 292.0 366.0C296.7 370.5 300.3 379.0 300.0 385.0C299.7 391.0 295.3 398.7 290.0 402.0C284.7 405.3 274.0 406.7 268.0 405.0C262.0 403.3 256.2 397.5 254.0 392.0C251.8 386.5 252.0 377.7 255.0 372.0Z"/>
<path class="gl" style="stroke-width:10" d="M280 365C270 380 275 395 285 402"/>
</g>
<path class="gr" style="stroke-width:13" d="M530.0 82.0C541.3 77.2 550.8 74.3 560.0 76.0C569.2 77.7 578.7 84.7 585.0 92.0C591.3 99.3 596.2 110.3 598.0 120.0C599.8 129.7 598.0 141.3 596.0 150.0C594.0 158.7 587.3 160.3 586.0 172.0C584.7 183.7 587.0 205.0 588.0 220.0C589.0 235.0 588.3 249.5 592.0 262.0C595.7 274.5 607.3 282.8 610.0 295.0C612.7 307.2 612.2 323.3 608.0 335.0C603.8 346.7 594.3 357.8 585.0 365.0C575.7 372.2 562.0 379.2 552.0 378.0C542.0 376.8 532.0 366.8 525.0 358.0C518.0 349.2 512.2 336.0 510.0 325.0C507.8 314.0 508.3 300.8 512.0 292.0C515.7 283.2 528.3 289.0 532.0 272.0C535.7 255.0 538.5 207.0 534.0 190.0C529.5 173.0 513.0 178.3 505.0 170.0C497.0 161.7 488.2 150.8 486.0 140.0C483.8 129.2 484.7 114.7 492.0 105.0C499.3 95.3 518.7 86.8 530.0 82.0Z"/>
<path class="gl" style="stroke-width:10" d="M498 112C515 95 548 100 560 128C566 158 548 175 522 172M562 128L582 100M555 182L560 268M576 190L580 262M514 300C540 285 580 290 604 310M520 312L548 360M548 300L560 330"/>
</g>
<!-- right bolt, image coords -->
<g>
<path d="M377.9 322L391 330.3" fill="none" stroke="#000" stroke-width="5" stroke-linecap="round"/>
<path d="M378.2 322.2L391 330.3" fill="none" stroke="#126906" stroke-width="1.9" stroke-dasharray="1.6 1.3" stroke-linecap="butt"/>
<ellipse cx="394.3" cy="332.6" rx="4.6" ry="5.2" transform="rotate(-30 394.3 332.6)" fill="#126906" stroke="#000" stroke-width="1.7"/>
<ellipse cx="396.2" cy="333.6" rx="2.2" ry="2.9" transform="rotate(-30 396.2 333.6)" fill="#126906" stroke="#000" stroke-width="1.1"/>
<path d="M390.6 329.2L392.6 336.6" fill="none" stroke="#000" stroke-width="1"/>
</g>
</g>

<g id="leaders">
<path class="ld" d="M113.3 70V84"/>
<path class="ld" d="M404 94.3V100.8M388.8 128V100.8H468.9V157.6M436.1 100.8V146.2"/>
<path class="ld" d="M388.8 120.0L388.8 127.8"/><path class="ah" d="M388.8 133.0L385.2 126.8L392.4 126.8Z"/>
<path class="ld" d="M436.1 168.7L436.1 182.8"/><path class="ah" d="M436.1 188.0L432.5 181.8L439.7 181.8Z"/>
<path class="ld" d="M468.9 180.6L468.9 193.3"/><path class="ah" d="M468.9 198.5L465.3 192.3L472.5 192.3Z"/>
<path class="ld" d="M319.7 190.2L312.1 180.5"/><path class="ah" d="M308.9 176.4L315.6 179.1L309.9 183.5Z"/>
<path class="ld" d="M92.5 335.0L92.5 322.8"/><path class="ah" d="M92.5 317.6L96.1 323.8L88.9 323.8Z"/>
<path class="ld" d="M141.9 361.4H151"/>
<path class="ld" d="M541.3 306.3L532.7 296.8"/><path class="ah" d="M529.2 292.9L536.0 295.1L530.7 299.9Z"/>
<path class="ld" d="M516.2 386.1H524.2"/>
<path class="ld" d="M590.8 39.5L578.0 39.5"/><path class="ah" d="M572.8 39.5L579.0 35.9L579.0 43.1Z"/>
<path class="ld" d="M504.6 79.9L516.7 79.9"/><path class="ah" d="M521.9 79.9L515.7 83.5L515.7 76.3Z"/>
<path class="ld" d="M544.0 126.8L556.3 126.8"/><path class="ah" d="M561.5 126.8L555.3 130.4L555.3 123.2Z"/>
<path class="ld" d="M551.2 172.2L551.2 184.3"/><path class="ah" d="M551.2 189.5L547.6 183.3L554.9 183.3Z"/>
<path class="bld" d="M209 248.75H216"/>
<path class="bld" d="M291.1 264.2L279.5 270.0"/><path class="bah" d="M274.8 272.3L278.8 266.3L282.0 272.8Z"/>
<path class="bld" d="M317.5 290.3L316.4 303.0"/><path class="bah" d="M316.0 308.2L312.9 301.7L320.1 302.3Z"/>
<path class="bld" d="M360.8 288.0L347.9 288.0"/><path class="bah" d="M342.7 288.0L348.9 284.4L348.9 291.6Z"/>
<path class="bld" d="M297.2 339.2L293.4 327.3"/><path class="bah" d="M291.8 322.4L297.1 327.2L290.2 329.4Z"/>
</g>
<!-- ===== labels ===== -->
<g id="labels">
<text class="lb" transform="translate(103.30,64.75) scale(0.94,1.02)">18</text>
<text class="lb" transform="translate(397.65,87.55) scale(0.94,1.02)">1</text>
<text class="lb" transform="translate(431.6,165.60) scale(0.98,1.02)">2</text>
<text class="lb" transform="translate(463.60,178.60) scale(0.94,1.02)">3</text>
<text class="lb" transform="translate(316.65,208.70) scale(0.94,1.02)">12</text>
<text class="lb" transform="translate(82.30,354.40) scale(0.94,1.02)">13</text>
<text class="lb" style="font-kerning:none;letter-spacing:0.81px" transform="translate(120.05,369.6) scale(0.94,1.02)">11</text>
<text class="lb" transform="translate(540.57,323.60) scale(0.94,1.02)">4</text>
<text class="lb" transform="translate(521.00,393.60) scale(0.94,1.02)">10</text>
<text class="lb" transform="translate(589.50,45.60) scale(0.94,1.02)">14</text>
<text class="lb" transform="translate(481.30,88.60) scale(0.94,1.02)">16</text>
<text class="lb" transform="translate(520.65,133.90) scale(0.94,1.02)">15</text>
<text class="lb" transform="translate(541.95,169.00) scale(0.94,1.02)">17</text>
<text class="blb" transform="translate(196.90,257.30) scale(0.94,1.02)">5</text>
<text class="blb" transform="translate(291.95,270.60) scale(0.94,1.02)">8</text>
<text class="blb" transform="translate(312.85,288.40) scale(0.94,1.02)">6</text>
<text class="blb" transform="translate(361.9,297.85) scale(1.02,1.02)">7</text>
<text class="blb" transform="translate(293.1,358.8) scale(1.0,1.02)">9</text>
</g>

<!-- ===== banner ===== -->
<rect x="16" y="457" width="608" height="44.7" fill="#116606"/>
<text class="bn" x="141" y="477" textLength="311.5" lengthAdjust="spacingAndGlyphs">Part or sub-assembly is #5 in diagram</text>
<text class="bn" x="111" y="497" textLength="359.5" lengthAdjust="spacingAndGlyphs">Diagram may not be specific to your vehicle</text>
</svg>
</body>
</html>
